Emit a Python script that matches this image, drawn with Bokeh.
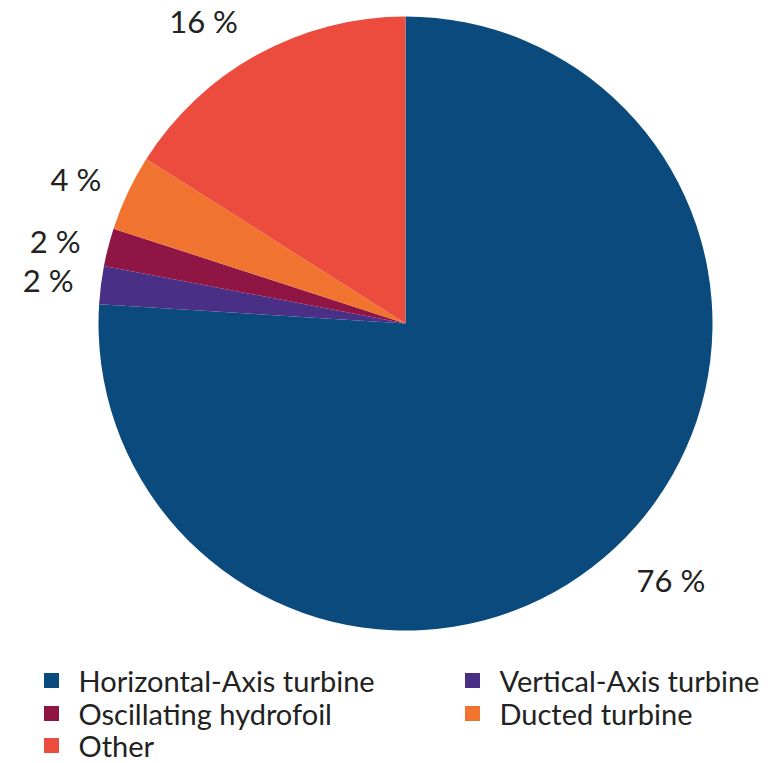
import math
from bokeh.plotting import figure
from bokeh.models import ColumnDataSource
from bokeh.core.properties import value
from bokeh.embed import file_html
from bokeh.resources import INLINE

categories = ["Horizontal-Axis turbine", "Vertical-Axis turbine", "Oscillating hydrofoil",
              "Ducted turbine", "Other"]
shares = [76, 2, 2, 4, 16]
labels = ["76 %", "2 %", "2 %", "4 %", "16 %"]
colors = ["#0b4a7c", "#4a2f86", "#8f1545", "#f07430", "#ec4c3d"]

# label placement tweaks (degrees nudged along the circle, radius in px)
label_nudge_deg = [2.8, 0.2, 1.1, 1.5, 4.9]
label_radius = [369, 360, 360, 360, 364]

W, H = 778, 763
cx, cy, R = 405, H - 323, 307
FONT = "Lato"
TXT = "#222222"

p = figure(width=W, height=H, x_range=(0, W), y_range=(0, H), min_border=0,
           outline_line_color=None, toolbar_location=None, output_backend="svg")
p.axis.visible = False
p.grid.visible = False
p.background_fill_color = "white"

total = sum(shares)
starts, ends, lx, ly = [], [], [], []
cum = 0.0
for i, s in enumerate(shares):
    a0 = math.pi / 2 - 2 * math.pi * cum / total
    a1 = math.pi / 2 - 2 * math.pi * (cum + s) / total
    mid = (a0 + a1) / 2 + math.radians(label_nudge_deg[i])
    starts.append(a0)
    ends.append(a1)
    lx.append(cx + label_radius[i] * math.cos(mid))
    ly.append(cy + label_radius[i] * math.sin(mid))
    cum += s

src = ColumnDataSource(dict(start=starts, end=ends, color=colors, cat=categories,
                            lx=lx, ly=ly, label=labels))
p.wedge(x=cx, y=cy, radius=R, start_angle="start", end_angle="end", direction="clock",
        fill_color="color", line_color=None, source=src)
p.text(x="lx", y="ly", text="label", source=src, text_font=value(FONT),
       text_font_size="31px", text_color=TXT, text_align="center", text_baseline="middle")

# legend laid out in two columns
col_x = [51, 472]
row_y = [680, 713, 745]
sx, sy, tx, ty = [], [], [], []
for i in range(len(categories)):
    c, r = i % 2, i // 2
    sx.append(col_x[c])
    sy.append(H - row_y[r])
    tx.append(col_x[c] + 27)
    ty.append(H - row_y[r])
lsrc = ColumnDataSource(dict(sx=sx, sy=sy, tx=tx, ty=ty, color=colors, cat=categories))
p.scatter(x="sx", y="sy", marker="square", size=15, fill_color="color", line_color=None, source=lsrc)
p.text(x="tx", y="ty", text="cat", source=lsrc, text_font=value(FONT), text_font_size="29px",
       text_color=TXT, text_align="left", text_baseline="middle")

open("out.html", "w").write(file_html(p, INLINE))
